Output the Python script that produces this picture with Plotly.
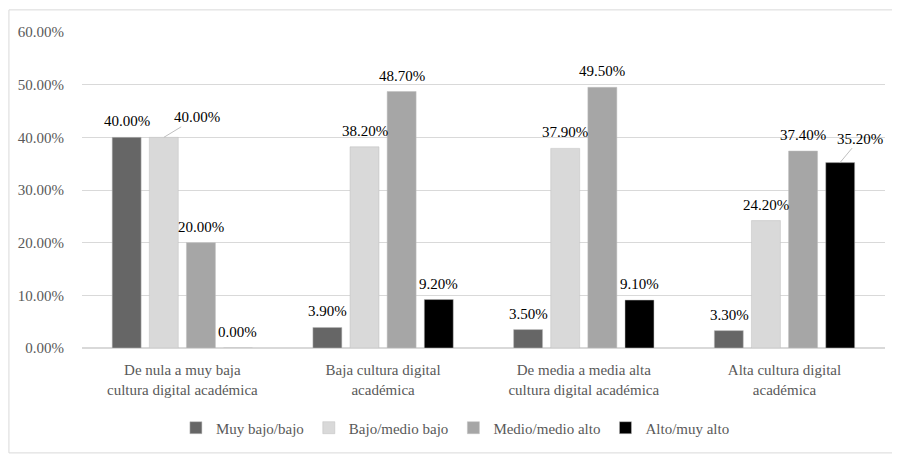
import plotly.graph_objects as go

# --- Data --------------------------------------------------------------------

CATEGORIES = [
    "De nula a muy baja<br>cultura digital académica",
    "Baja cultura digital<br>académica",
    "De media a media alta<br>cultura digital académica",
    "Alta cultura digital<br>académica",
]
SERIES_NAMES = ["Muy bajo/bajo", "Bajo/medio bajo", "Medio/medio alto", "Alto/muy alto"]
MUY_BAJO = [0.400, 0.039, 0.035, 0.033]
BAJO_MEDIO = [0.400, 0.382, 0.379, 0.242]
MEDIO_ALTO = [0.200, 0.487, 0.495, 0.374]
ALTO = [0.000, 0.092, 0.091, 0.352]
Y_TICKS = [0, 0.1, 0.2, 0.3, 0.4, 0.5, 0.6]

# labels Excel moved off the bar (series index, category index) -> leader offset
MOVED_LABELS = {(1, 0): (33, -20), (3, 3): (20, -24)}

COLORS = ["#666666", "#d9d9d9", "#a6a6a6", "#000000"]
FONT = "'Liberation Serif', 'Times New Roman', serif"
SLOT_PX = 37  # one bar slot inside a group

fig = go.Figure()
all_series = [MUY_BAJO, BAJO_MEDIO, MEDIO_ALTO, ALTO]
for s, (name, values) in enumerate(zip(SERIES_NAMES, all_series)):
    fig.add_trace(go.Bar(
        x=CATEGORIES, y=values, name=name,
        marker=dict(color=COLORS[s], line=dict(color="#bfbfbf", width=0.5)),
        hovertemplate="%{y:.2%}<extra>" + name + "</extra>",
    ))

# data labels (Excel style: a bit above the bar, some moved with leader line)
for s, values in enumerate(all_series):
    for c, v in enumerate(values):
        label_font = dict(family=FONT, size=15, color="#000000")
        if (s, c) in MOVED_LABELS:
            ax, ay = MOVED_LABELS[(s, c)]
            fig.add_annotation(
                x=CATEGORIES[c], y=v, xshift=(s - 1.5) * SLOT_PX,
                text=f"{v:.2%}", showarrow=True, arrowhead=0, arrowwidth=1,
                arrowcolor="#bfbfbf", ax=ax, ay=ay, font=label_font,
            )
        else:
            fig.add_annotation(
                x=CATEGORIES[c], y=v, xshift=(s - 1.5) * SLOT_PX, yshift=6,
                yanchor="bottom", text=f"{v:.2%}", showarrow=False, font=label_font,
            )

# outer chart frame (page body adds 8px offset)
fig.add_shape(type="rect", xref="paper", yref="paper",
              x0=-0.091, x1=1.0135, y0=-0.332, y1=1.07,
              line=dict(color="#d9d9d9", width=1), fillcolor="rgba(0,0,0,0)")

fig.update_layout(
    width=892, height=446,
    margin=dict(l=74, r=15, t=24, b=106, autoexpand=False),
    paper_bgcolor="white", plot_bgcolor="white",
    barmode="group", bargap=0.26, bargroupgap=0.22,
    font=dict(family=FONT, size=15, color="#595959"),
    showlegend=True,
    legend=dict(orientation="h", x=0.465, xanchor="center", y=-0.253, yanchor="middle",
                bgcolor="rgba(0,0,0,0)",
                font=dict(family=FONT, size=15, color="#595959"),
                itemwidth=30, tracegroupgap=0),
)
fig.update_yaxes(range=[0, 0.6], tickvals=Y_TICKS, tickformat=".2%",
                 showgrid=True, gridcolor="#d9d9d9", gridwidth=1,
                 zeroline=True, zerolinecolor="#d9d9d9", showline=False,
                 ticks="", automargin=False, ticklabelstandoff=17,
                 tickfont=dict(size=15, color="#595959"))
fig.update_xaxes(showgrid=False, showline=False, ticks="", automargin=False,
                 ticklabelstandoff=11, tickfont=dict(size=15, color="#595959"))

fig.write_html("out.html")
